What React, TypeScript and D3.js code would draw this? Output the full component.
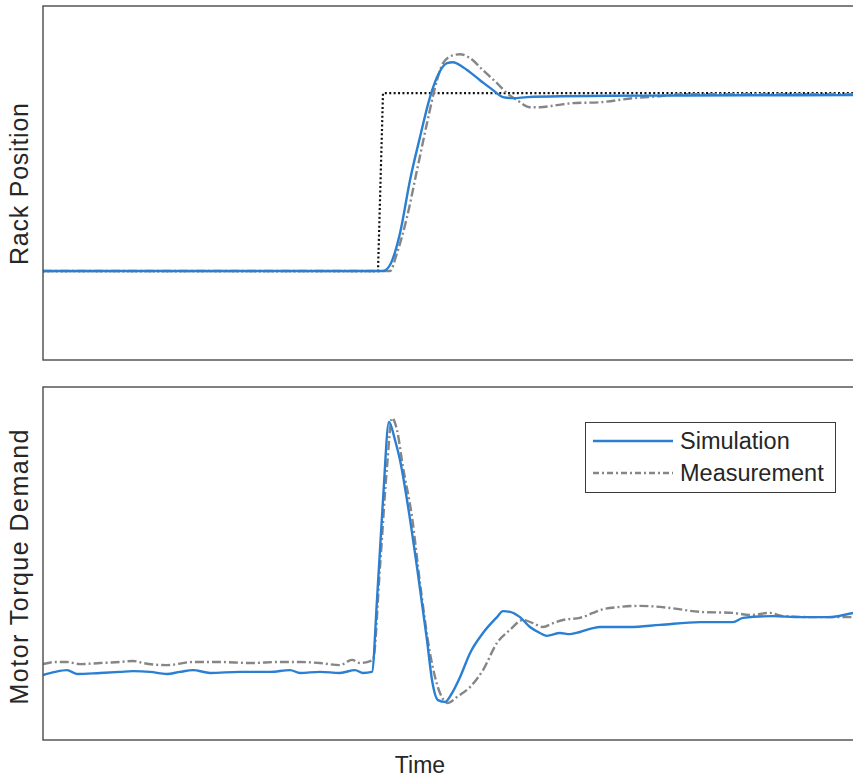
import React from 'react';
import * as d3 from 'd3';

// time in samples
const refTime = [0, 335, 340, 810];
const refValue = [0, 0, 1, 1];

const rackSimTime = [0, 340, 347, 357, 367, 377, 387, 394, 404, 410, 420, 437, 450, 460, 470, 484, 517, 600, 700, 810];
const rackSimValue = [0, 0, 0.034, 0.213, 0.511, 0.753, 0.978, 1.09, 1.169, 1.174, 1.146, 1.073, 1.017, 0.978, 0.972, 0.978, 0.983, 0.986, 0.988, 0.989];

const rackMeasTime = [0, 347, 354, 364, 374, 384, 394, 400, 410, 417, 427, 440, 454, 464, 474, 487, 497, 514, 530, 557, 590, 617, 640, 810];
const rackMeasValue = [0, 0, 0.101, 0.303, 0.567, 0.831, 1.073, 1.169, 1.213, 1.219, 1.197, 1.129, 1.056, 1.0, 0.961, 0.921, 0.921, 0.933, 0.944, 0.949, 0.972, 0.983, 0.994, 0.994];

const torqueSimTime = [0, 12, 24, 34, 57, 77, 90, 107, 124, 137, 150, 167, 197, 227, 247, 257, 277, 297, 312, 320, 329, 334, 340, 346, 352, 357, 364, 374, 384, 389, 395, 402, 409, 417, 427, 440, 454, 460, 467, 477, 487, 497, 504, 517, 527, 537, 550, 557, 587, 617, 657, 690, 700, 730, 757, 784, 810];
const torqueSimValue = [18.4, 19.3, 19.8, 18.7, 19.0, 19.3, 19.5, 19.3, 18.7, 19.3, 19.8, 19.0, 19.3, 19.3, 19.8, 19.0, 19.3, 19.0, 19.8, 19.0, 19.3, 39.7, 68.0, 90.1, 85.0, 79.3, 68.0, 49.0, 28.3, 17.0, 11.3, 10.8, 13.3, 17.8, 24.6, 30.3, 34.8, 36.5, 36.3, 34.8, 32.0, 30.3, 29.5, 30.3, 30.0, 30.6, 31.7, 32.0, 32.0, 32.6, 33.4, 33.4, 34.6, 35.1, 34.8, 34.8, 36.0];

const torqueMeasTime = [0, 12, 24, 37, 57, 77, 90, 100, 124, 150, 177, 207, 237, 257, 277, 297, 309, 317, 330, 337, 344, 349, 354, 360, 369, 377, 387, 397, 405, 414, 427, 440, 454, 467, 480, 490, 500, 510, 520, 537, 550, 557, 577, 597, 627, 657, 690, 707, 727, 740, 774, 810];
const torqueMeasValue = [21.5, 22.1, 22.1, 21.5, 21.8, 22.1, 22.4, 21.8, 21.2, 22.1, 22.1, 21.8, 22.1, 22.1, 21.8, 21.2, 22.7, 21.8, 22.7, 49.0, 77.3, 91.2, 87.8, 77.3, 63.2, 44.5, 24.6, 13.3, 10.5, 12.2, 15.0, 19.8, 27.5, 31.2, 34.0, 33.1, 32.0, 33.1, 34.0, 34.6, 36.0, 36.8, 37.7, 38.0, 37.4, 36.3, 36.0, 35.4, 36.0, 35.1, 34.8, 34.8];

const legendLabels = ['Simulation', 'Measurement'];

const W = 853;
const H = 778;
const left = 43;
const rightEdge = 870; // the frame runs past the picture's right side
const top1 = 6, bottom1 = 360;
const top2 = 387, bottom2 = 740;

const simColor = '#2a7fd2';
const measColor = '#868686';
const measDash = '9,3,2,3';
const textColor = '#262626';
const font = 'Arial, "Liberation Sans", Helvetica, sans-serif';

const zip = (t: number[], v: number[]) => t.map((d, i) => [d, v[i]] as [number, number]);

export default function App() {
  const x = d3.scaleLinear().domain([0, 810]).range([left, 853]);
  const y1 = d3.scaleLinear().domain([-0.5, 1.49]).range([bottom1, top1]);
  const y2 = d3.scaleLinear().domain([0, 100]).range([bottom2, top2]);

  const line1 = d3.line<[number, number]>().x(d => x(d[0])).y(d => y1(d[1])).curve(d3.curveMonotoneX);
  const step1 = d3.line<[number, number]>().x(d => x(d[0])).y(d => y1(d[1]));
  const line2 = d3.line<[number, number]>().x(d => x(d[0])).y(d => y2(d[1])).curve(d3.curveMonotoneX);

  return (
    <svg width={W} height={H} style={{ position: 'absolute', left: 0, top: 0, background: '#fff' }} fontFamily={font}>
      <defs>
        <clipPath id="c1"><rect x={left} y={top1} width={rightEdge - left} height={bottom1 - top1} /></clipPath>
        <clipPath id="c2"><rect x={left} y={top2} width={rightEdge - left} height={bottom2 - top2} /></clipPath>
      </defs>

      {/* top panel */}
      <g clipPath="url(#c1)" fill="none">
        <path d={step1(zip(refTime, refValue)) || ''} stroke="#111" strokeWidth={2.2} strokeDasharray="2,2.4" />
        <path d={line1(zip(rackMeasTime, rackMeasValue)) || ''} stroke={measColor} strokeWidth={2.4} strokeDasharray={measDash} />
        <path d={line1(zip(rackSimTime, rackSimValue)) || ''} stroke={simColor} strokeWidth={2.4} />
      </g>
      <rect x={left} y={top1} width={rightEdge - left} height={bottom1 - top1} fill="none" stroke="#4a4a4a" strokeWidth={1.4} />

      {/* bottom panel */}
      <g clipPath="url(#c2)" fill="none">
        <path d={line2(zip(torqueMeasTime, torqueMeasValue)) || ''} stroke={measColor} strokeWidth={2.4} strokeDasharray={measDash} />
        <path d={line2(zip(torqueSimTime, torqueSimValue)) || ''} stroke={simColor} strokeWidth={2.4} />
      </g>
      <rect x={left} y={top2} width={rightEdge - left} height={bottom2 - top2} fill="none" stroke="#4a4a4a" strokeWidth={1.4} />

      {/* legend */}
      <g>
        <rect x={585.5} y={422.5} width={250} height={70} fill="#fff" stroke="#3a3a3a" strokeWidth={1} />
        {legendLabels.map((lab, i) => (
          <g key={lab} transform={`translate(0,${441 + i * 32})`}>
            <line x1={593} x2={673} y1={0} y2={0} stroke={i === 0 ? simColor : measColor} strokeWidth={2.4}
              strokeDasharray={i === 0 ? undefined : '6,3,2,3'} />
            <text x={680} y={0} dy="0.36em" fontSize={23.5} fill={textColor}>{lab}</text>
          </g>
        ))}
      </g>

      {/* axis labels */}
      <text transform="translate(28,184) rotate(-90)" textAnchor="middle" fontSize={25} fill={textColor}
        textLength={162} lengthAdjust="spacing">Rack Position</text>
      <text transform="translate(28,567) rotate(-90)" textAnchor="middle" fontSize={25} fill={textColor}
        textLength={275} lengthAdjust="spacing">Motor Torque Demand</text>
      <text x={420} y={773} textAnchor="middle" fontSize={23} fill={textColor}>Time</text>
    </svg>
  );
}
